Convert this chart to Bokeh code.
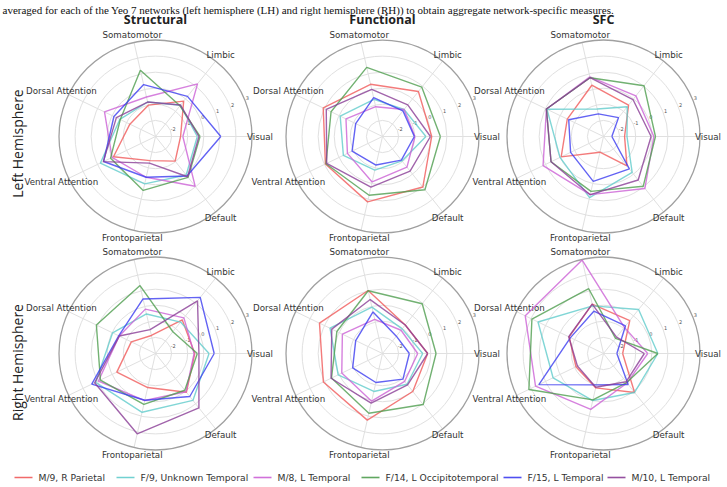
import numpy as np
from bokeh.plotting import figure
from bokeh.models import Range1d
from bokeh.core.properties import value
from bokeh.embed import file_html
from bokeh.resources import INLINE

# ---------------- data ----------------
caption = ("averaged for each of the Yeo 7 networks (left hemisphere (LH) and right "
           "hemisphere (RH)) to obtain aggregate network-specific measures.")
measures = ["Structural", "Functional", "SFC"]
hemispheres = ["Left Hemisphere", "Right Hemisphere"]
networks = ["Visual", "Limbic", "Somatomotor", "Dorsal Attention",
            "Ventral Attention", "Frontoparietal", "Default"]
subjects = ["M/9, R Parietal", "F/9, Unknown Temporal", "M/8, L Temporal",
            "F/14, L Occipitotemporal", "F/15, L Temporal", "M/10, L Temporal"]
r_ticks = [-2, -1, 0, 1, 2, 3]
r_min, r_max = -3, 3

# values per subject (rows, in subjects order), per network (columns, in networks order)
lh_structural = [
    [-1.44, -0.19, -1.00, -1.23, -0.10, -1.46, -1.04],
    [-0.40, -0.52, -0.80, -0.54, 0.80, 0.02, 0.06],
    [-1.30, 1.19, -0.48, 0.52, 0.00, -0.40, 0.96],
    [-0.23, -0.56, 1.22, -0.57, 0.10, 0.44, 0.25],
    [1.06, 0.19, 0.31, -0.13, 0.58, -0.40, 0.14],
    [-0.30, -0.50, -0.80, -0.30, 0.60, -1.30, 0.20],
]
lh_functional = [
    [0.06, 0.58, 0.33, 1.09, 0.94, 1.17, 1.02],
    [-0.30, -0.85, -0.63, -0.08, -0.30, -0.85, -1.06],
    [-0.98, -0.85, -1.10, -0.48, -0.58, -0.10, -0.56],
    [0.60, 0.92, 1.41, 0.55, 0.90, 0.75, 1.23],
    [-1.02, -0.96, -0.52, -1.15, -0.90, -1.18, -1.12],
    [-0.02, -0.48, 0.00, 0.88, 0.85, 0.23, -0.25],
]
lh_sfc = [
    [-1.69, -0.50, 0.27, -0.50, -0.08, -2.00, -0.66],
    [-1.54, -0.63, -1.25, 0.90, 0.00, 0.90, -0.14],
    [0.13, 0.23, 0.80, 0.94, 1.17, 0.71, 1.13],
    [0.23, 1.04, 0.75, 0.94, 0.62, 0.50, 0.96],
    [-2.48, -1.50, -1.56, -0.60, -0.73, -0.14, -0.42],
    [-0.04, -0.06, 0.75, 0.94, 0.62, 0.71, 0.46],
]
rh_structural = [
    [-0.56, -0.33, -1.85, -1.33, -0.33, -0.83, 0.08],
    [0.33, -0.50, -0.48, -0.04, 1.13, 0.75, 0.73],
    [-0.60, -0.17, -0.17, -0.50, 0.94, 0.00, 0.04],
    [-0.40, -1.27, 1.33, 1.08, 0.80, 0.25, -0.08],
    [0.65, 1.46, 0.48, -0.46, 1.40, -0.02, 0.42],
    [-0.30, 1.19, -1.48, -0.50, 1.20, 2.12, 1.33],
]
rh_functional = [
    [-0.19, -0.73, 1.02, 1.35, 1.08, 1.25, 0.02],
    [-0.50, -1.04, -0.04, 0.62, 0.06, -0.58, -0.55],
    [-0.81, -1.15, -0.83, -0.23, -0.19, 0.04, -0.79],
    [0.33, 0.96, 1.00, 0.15, 0.52, 0.81, 1.06],
    [-1.33, -1.62, -0.35, -1.15, -0.94, -1.15, -0.96],
    [-0.19, -0.73, 0.44, 0.50, 0.55, 0.17, -0.50],
]
rh_sfc = [
    [-1.81, -0.38, 0.15, -0.63, -1.10, -0.81, 0.10],
    [0.38, 0.50, 0.04, 1.52, 0.48, 0.00, 0.10],
    [-0.25, -0.92, 2.96, 2.40, 1.69, 0.56, -0.65],
    [0.38, -1.80, 1.13, 1.94, 2.15, -0.04, -0.69],
    [-2.17, -0.81, -0.30, -0.72, 1.46, -1.00, -0.54],
    [-0.46, -1.70, 0.15, -0.60, -1.20, -0.85, -0.75],
]
panels = [[lh_structural, lh_functional, lh_sfc],
          [rh_structural, rh_functional, rh_sfc]]

# ---------------- style / layout ----------------
colors = ["#f05a5a", "#62cccc", "#cc62d6", "#4f9d4f", "#3c3cf0", "#8a3d96"]
W, H = 727, 487
col_x = [155, 382, 603]
row_y = [136, 353]
R = 96.5
label_pad = 8.0
FONT = value("DejaVu Sans")

p = figure(width=W, height=H, x_range=Range1d(0, W), y_range=Range1d(H, 0),
           output_backend="svg", toolbar_location=None,
           x_axis_type=None, y_axis_type=None, min_border=0)
p.outline_line_color = None
p.background_fill_color = "white"
p.border_fill_color = "white"

unit = R / (r_max - r_min)
theta = np.arange(len(networks)) * 2 * np.pi / len(networks)


def rad(v):
    return (np.asarray(v, dtype=float) - r_min) * unit


for ri, row in enumerate(panels):
    for ci, panel in enumerate(row):
        cx, cy = col_x[ci], row_y[ri]
        # grid circles
        grid_r = [rad(t) for t in r_ticks[:-1]]
        p.circle(x=[cx] * len(grid_r), y=[cy] * len(grid_r), radius=grid_r,
                 fill_color=None, line_color="#e0e0e0", line_width=1)
        # spokes
        p.segment(x0=[cx] * len(theta), y0=[cy] * len(theta),
                  x1=cx + R * np.cos(theta), y1=cy - R * np.sin(theta),
                  line_color="#e0e0e0", line_width=1)
        # outer boundary
        p.circle(x=[cx], y=[cy], radius=[R], fill_color=None,
                 line_color="#a0a0a0", line_width=1.3)
        # radial tick labels
        ang = np.deg2rad(22.5)
        tr = rad(r_ticks) + 3
        p.text(x=cx + tr * np.cos(ang), y=cy - tr * np.sin(ang),
               text=[str(t) for t in r_ticks], text_font=FONT,
               text_font_size="5px", text_color="#555555",
               text_align="center", text_baseline="middle")
        # network labels
        lr = R + label_pad
        p.text(x=cx + lr * np.cos(theta), y=cy - lr * np.sin(theta),
               text=networks, text_font=FONT, text_font_size="8.7px",
               text_color="#333333", text_align="center", text_baseline="middle")
        # series
        for si, vals in enumerate(panel):
            rr = rad(vals)
            xs = np.append(cx + rr * np.cos(theta), cx + rr[0])
            ys = np.append(cy - rr * np.sin(theta), cy)
            p.line(xs, ys, line_color=colors[si], line_width=1.4, line_alpha=0.8)

# column titles
p.text(x=col_x, y=[19] * 3, text=measures, text_font=value("Open Sans"),
       text_font_size="12.5px", text_font_style="bold", text_color="#222222",
       text_align="center", text_baseline="middle")
# row titles
p.text(x=[17, 17], y=[143, 362], text=hemispheres, text_font=value("Open Sans"),
       text_font_size="14px", text_color="#222222", angle=np.pi / 2,
       text_align="center", text_baseline="middle")
# caption line from the source page
p.text(x=[2], y=[9.2], text=[caption], text_font=value("Liberation Serif"),
       text_font_size="11px", text_color="#111111",
       text_align="left", text_baseline="alphabetic")

# legend
leg_x = [14, 116, 253, 361, 503, 607]
leg_y = 477
p.segment(x0=leg_x, y0=[leg_y] * 6, x1=[x + 18 for x in leg_x], y1=[leg_y] * 6,
          line_color=colors, line_width=1.6, line_alpha=0.9)
p.text(x=[x + 24 for x in leg_x], y=[leg_y] * 6, text=subjects, text_font=FONT,
       text_font_size="9.2px", text_color="#333333",
       text_align="left", text_baseline="middle")

open("out.html", "w").write(file_html(p, INLINE))
